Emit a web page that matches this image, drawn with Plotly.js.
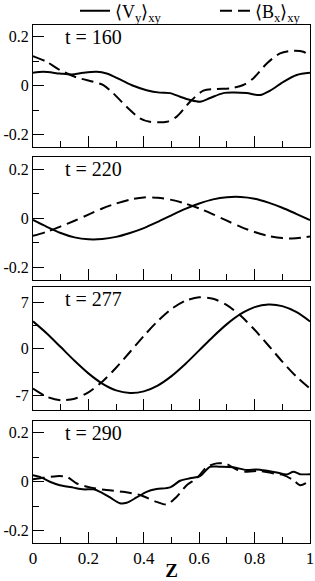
<!DOCTYPE html>
<html><head><meta charset="utf-8">
<script src="https://cdn.plot.ly/plotly-3.0.1.min.js"></script>
<style>html,body{margin:0;padding:0;background:#fff}#plot{width:315px;height:581px}</style>
</head><body><div id="plot"></div>
<script>
// ---- data ----
const panelLabels = ["t = 160", "t = 220", "t = 277", "t = 290"];
const seriesNames = ["⟨V<sub>y</sub>⟩<sub>xy</sub>", "⟨B<sub>x</sub>⟩<sub>xy</sub>"];

const z160V = [0,0.037,0.097,0.14,0.182,0.23,0.266,0.314,0.362,0.41,0.458,0.495,0.531,0.567,0.603,0.639,0.687,0.723,0.771,0.82,0.856,0.904,0.952,1];
const V160  = [0.053,0.057,0.05,0.046,0.053,0.057,0.05,0.026,0,-0.018,-0.028,-0.03,-0.045,-0.058,-0.065,-0.05,-0.03,-0.028,-0.03,-0.038,-0.02,0.016,0.044,0.053];
const z160B = [0,0.049,0.097,0.158,0.218,0.254,0.29,0.338,0.386,0.422,0.483,0.519,0.567,0.615,0.663,0.711,0.759,0.795,0.844,0.892,0.94,0.976,1];
const B160  = [0.121,0.098,0.064,0.034,0.016,0.003,-0.031,-0.086,-0.133,-0.147,-0.147,-0.126,-0.065,-0.02,-0.013,-0.011,0.003,0.03,0.091,0.132,0.143,0.139,0.121];

const zGrid = [0,0.05,0.1,0.15,0.2,0.25,0.3,0.35,0.4,0.45,0.5,0.55,0.6,0.65,0.7,0.75,0.8,0.85,0.9,0.95,1];
const V220 = [-0.007,-0.035,-0.06,-0.078,-0.086,-0.085,-0.076,-0.06,-0.04,-0.015,0.012,0.038,0.06,0.077,0.086,0.087,0.08,0.064,0.043,0.018,-0.007];
const B220 = [-0.072,-0.055,-0.033,-0.01,0.015,0.04,0.06,0.076,0.085,0.084,0.075,0.06,0.04,0.016,-0.01,-0.035,-0.056,-0.072,-0.081,-0.082,-0.074];

const V277 = [4.11,2.29,0.25,-1.81,-3.70,-5.23,-6.25,-6.64,-6.40,-5.53,-4.11,-2.29,-0.25,1.81,3.70,5.23,6.25,6.64,6.40,5.53,4.11];
const B277 = [-5.98,-7.21,-7.73,-7.51,-6.55,-4.94,-2.85,-0.49,1.93,4.15,5.98,7.21,7.73,7.51,6.55,4.94,2.85,0.49,-1.93,-4.15,-5.98];

const z290V = [0,0.025,0.061,0.097,0.146,0.182,0.218,0.242,0.278,0.314,0.338,0.374,0.41,0.446,0.495,0.531,0.567,0.603,0.639,0.675,0.723,0.771,0.807,0.844,0.88,0.916,0.94,0.964,1];
const V290  = [0.027,0.02,0,-0.014,-0.024,-0.031,-0.031,-0.041,-0.064,-0.088,-0.086,-0.064,-0.041,-0.03,-0.023,0.004,0.014,0.023,0.061,0.061,0.059,0.048,0.05,0.045,0.038,0.03,0.041,0.031,0.031];
const z290B = [0,0.037,0.085,0.122,0.158,0.206,0.266,0.326,0.386,0.446,0.483,0.519,0.555,0.591,0.627,0.663,0.699,0.735,0.771,0.82,0.868,0.904,0.94,0.964,1];
const B290  = [0.01,0.016,0.023,0.02,-0.007,-0.023,-0.034,-0.041,-0.054,-0.082,-0.093,-0.061,-0.014,0.014,0.059,0.075,0.072,0.05,0.041,0.044,0.034,0.027,0.007,-0.014,0.004];

const xTickVals = [0,0.2,0.4,0.6,0.8,1];
const xTickText = ["0","0.2","0.4","0.6","0.8","1"];
const xMinorVals = [0.1,0.3,0.5,0.7,0.9];
const ySmallTickVals = [-0.2,0,0.2];
const ySmallTickText = ["-0.2","0","0.2"];
const ySmallMinor = [-0.1,0.1];
const yBigTickVals = [-7,0,7];
const yBigTickText = ["-7","0","7"];
const yBigMinor = [-3.5,3.5];

// ---- figure ----
const FONT = "'Liberation Serif', 'Times New Roman', serif";
const solid = {color:'#000', width:2, shape:'spline', smoothing:0.8};
const dashed = {color:'#000', width:2, dash:'12px,6px', shape:'spline', smoothing:0.8};

const panels = [
  {zv:z160V, v:V160, zb:z160B, b:B160},
  {zv:zGrid, v:V220, zb:zGrid, b:B220},
  {zv:zGrid, v:V277, zb:zGrid, b:B277},
  {zv:z290V, v:V290, zb:z290B, b:B290}
];
const traces = [];
panels.forEach((p,i)=>{
  const ax = i===0 ? '' : String(i+1);
  traces.push({x:p.zv, y:p.v, type:'scatter', mode:'lines', line:solid, xaxis:'x'+ax, yaxis:'y'+ax,
    name:seriesNames[0], showlegend:i===0, legend:'legend', hoverinfo:'skip'});
  traces.push({x:p.zb, y:p.b, type:'scatter', mode:'lines', line:dashed, xaxis:'x'+ax, yaxis:'y'+ax,
    name:seriesNames[1], showlegend:i===0, legend:'legend2', hoverinfo:'skip'});
});

const legendBase = {orientation:'h', xanchor:'left', y:1.025, yanchor:'middle',
  font:{family:FONT, size:18, color:'#000'}, bgcolor:'rgba(0,0,0,0)', borderwidth:0};

const domains = [[0.7630,0.9990],[0.5077,0.7437],[0.2563,0.4923],[0,0.2360]];
const layout = {
  width:315, height:581,
  margin:{l:33, r:5, t:24, b:38, autoexpand:false},
  paper_bgcolor:'#fff', plot_bgcolor:'#fff',
  font:{family:FONT, color:'#000', size:16},
  showlegend:true,
  legend:Object.assign({x:0.1516}, legendBase),
  legend2:Object.assign({x:0.657}, legendBase),
  annotations:[]
};
for(let i=0;i<4;i++){
  const ax = i===0 ? '' : String(i+1);
  const big = i===2;
  layout['xaxis'+ax] = {
    domain:[0,1], range:[0,1], anchor:'y'+ax,
    showline:true, mirror:true, linecolor:'#000', linewidth:1,
    ticks:'inside', ticklen:11, tickwidth:1, tickcolor:'#000',
    tickmode:'array', tickvals:xTickVals, ticktext:xTickText,
    showticklabels:i===3, showgrid:false, zeroline:false,
    tickfont:{family:FONT, size:17},
    minor:{ticks:'inside', ticklen:6, tickwidth:1, tickcolor:'#000', tickmode:'array', tickvals:xMinorVals, showgrid:false},
    title: i===3 ? {text:'<b>Z</b>', font:{family:FONT, size:19}, standoff:2} : undefined
  };
  layout['yaxis'+ax] = {
    domain:domains[i], range: big ? [-9.2,9.2] : [-0.25,0.25], anchor:'x'+ax,
    showline:true, mirror:true, linecolor:'#000', linewidth:1,
    ticks:'inside', ticklen:11, tickwidth:1, tickcolor:'#000',
    tickmode:'array', tickvals: big ? yBigTickVals : ySmallTickVals, ticktext: big ? yBigTickText : ySmallTickText,
    showgrid:false, zeroline:false, tickfont:{family:FONT, size:16},
    minor:{ticks:'inside', ticklen:6, tickwidth:1, tickcolor:'#000', tickmode:'array', tickvals: big ? yBigMinor : ySmallMinor, showgrid:false}
  };
  layout.annotations.push({text:panelLabels[i], xref:'x'+ax+' domain', yref:'y'+ax+' domain',
    x:0.108, y:0.902, xanchor:'left', yanchor:'middle', showarrow:false,
    font:{family:FONT, size:20, color:'#000'}});
}
Plotly.newPlot('plot', traces, layout, {staticPlot:true, displayModeBar:false});
</script></body></html>
